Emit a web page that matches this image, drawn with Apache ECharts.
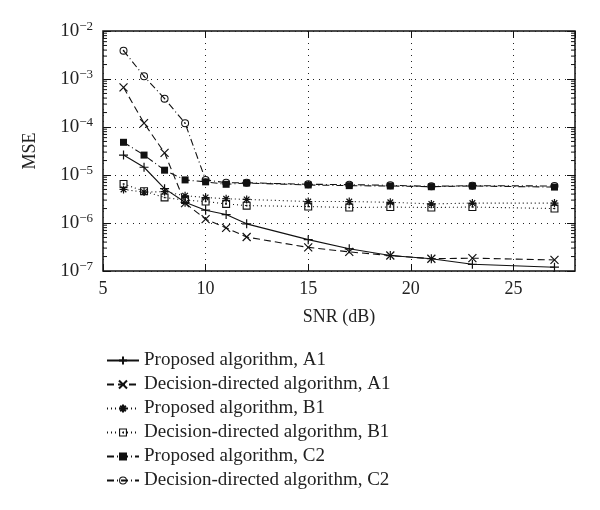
<!DOCTYPE html>
<html><head><meta charset="utf-8">
<script src="https://cdn.jsdelivr.net/npm/echarts@6/dist/echarts.min.js"></script>
<style>html,body{margin:0;padding:0;background:#fff}#c{width:600px;height:510px}</style>
</head><body><div id="c"></div>
<script>
const snr = [6, 7, 8, 9, 10, 11, 12, 15, 17, 19, 21, 23, 27];
const propA1 = [2.6e-5, 1.45e-5, 5.2e-6, 2.7e-6, 1.85e-6, 1.5e-6, 9.6e-7, 4.5e-7, 2.9e-7, 2.1e-7, 1.8e-7, 1.38e-7, 1.2e-7];
const ddA1   = [6.7e-4, 1.2e-4, 2.9e-5, 2.6e-6, 1.2e-6, 7.9e-7, 5.1e-7, 3.1e-7, 2.5e-7, 2.1e-7, 1.8e-7, 1.85e-7, 1.7e-7];
const propB1 = [5.0e-6, 4.4e-6, 4.5e-6, 3.7e-6, 3.4e-6, 3.2e-6, 3.1e-6, 2.8e-6, 2.8e-6, 2.7e-6, 2.5e-6, 2.6e-6, 2.6e-6];
const ddB1   = [6.5e-6, 4.6e-6, 3.4e-6, 3.0e-6, 2.8e-6, 2.5e-6, 2.3e-6, 2.2e-6, 2.1e-6, 2.15e-6, 2.1e-6, 2.15e-6, 2.0e-6];
const propC2 = [4.8e-5, 2.6e-5, 1.26e-5, 7.9e-6, 7.2e-6, 6.4e-6, 6.8e-6, 6.2e-6, 6.0e-6, 5.9e-6, 5.7e-6, 5.9e-6, 5.6e-6];
const ddC2   = [3.9e-3, 1.14e-3, 3.9e-4, 1.2e-4, 7.9e-6, 6.9e-6, 6.9e-6, 6.4e-6, 6.3e-6, 6.1e-6, 5.8e-6, 6.0e-6, 5.9e-6];
const names = ['Proposed algorithm, A1', 'Decision-directed algorithm, A1', 'Proposed algorithm, B1',
  'Decision-directed algorithm, B1', 'Proposed algorithm, C2', 'Decision-directed algorithm, C2'];
const xTicks = [5, 10, 15, 20, 25];
const yDecades = [-7, -6, -5, -4, -3, -2];

const FONT = 'Liberation Serif';
const minorVals = [];
for (let k = -7; k < -2; k++) for (let m = 2; m <= 9; m++) minorVals.push(m * Math.pow(10, k));

const SYM = {
  plus: 'path://M0,5L10,5M5,0L5,10',
  cross: 'path://M0,0L10,10M10,0L0,10',
  star: 'path://M0,5L10,5M5,0L5,10M1.5,1.5L8.5,8.5M8.5,1.5L1.5,8.5',
  sqdot: 'path://M0,0L10,0L10,10L0,10ZM1.4,1.4L1.4,8.6L8.6,8.6L8.6,1.4ZM4,4L6,4L6,6L4,6Z',
  fsq: 'path://M0,0L10,0L10,10L0,10Z',
  cdot: 'path://M0,5A5,5 0 1,1 10,5A5,5 0 1,1 0,5ZM1.3,5A3.7,3.7 0 1,0 8.7,5A3.7,3.7 0 1,0 1.3,5ZM4,5A1,1 0 1,1 6,5A1,1 0 1,1 4,5Z'
};
function mk(name, vals, sym, size, stroke, ltype) {
  return {
    name, type: 'line', data: snr.map((x, i) => [x, vals[i]]),
    symbol: sym, symbolSize: size, showSymbol: true,
    lineStyle: { color: '#111', width: 1.1, type: ltype },
    itemStyle: stroke ? { color: 'none', borderColor: '#111', borderWidth: 1.2 } : { color: '#111', borderWidth: 0 },
    emphasis: { disabled: true }, animation: false, z: 3
  };
}
const series = [
  mk(names[0], propA1, SYM.plus, 9, true, 'solid'),
  mk(names[1], ddA1, SYM.cross, 8, true, [7, 4]),
  mk(names[2], propB1, SYM.star, 8, true, [1, 3]),
  mk(names[3], ddB1, SYM.sqdot, 8, false, [1, 3]),
  mk(names[4], propC2, SYM.fsq, 7, false, [7, 3, 1, 3]),
  mk(names[5], ddC2, SYM.cdot, 8, false, [7, 3, 1, 3]),
  {
    type: 'custom', silent: true, animation: false, z: 2,
    data: minorVals.map(v => [xTicks[0], v]),
    renderItem: function (params, api) {
      const y = api.coord([api.value(0), api.value(1)])[1];
      const cs = params.coordSys;
      return { type: 'group', children: [
        { type: 'line', shape: { x1: cs.x, y1: y, x2: cs.x + 4, y2: y }, style: { stroke: '#111', lineWidth: 1 } },
        { type: 'line', shape: { x1: cs.x + cs.width, y1: y, x2: cs.x + cs.width - 4, y2: y }, style: { stroke: '#111', lineWidth: 1 } }
      ] };
    }
  }
];

const chart = echarts.init(document.getElementById('c'), null, { renderer: 'canvas' });
const xBase = {
  type: 'value', min: xTicks[0], max: 28, interval: 5,
  axisLine: { show: false }, axisTick: { inside: true, length: 7, lineStyle: { color: '#111' } }
};
const yBase = {
  type: 'log', logBase: 10, min: Math.pow(10, yDecades[0]), max: Math.pow(10, yDecades[yDecades.length - 1]),
  axisLine: { show: false }, axisTick: { inside: true, length: 8, lineStyle: { color: '#111' } }
};
chart.setOption({
  animation: false,
  backgroundColor: '#fff',
  grid: { left: 103, right: 25, top: 31, bottom: 239, show: true, borderColor: '#111', borderWidth: 1.5, backgroundColor: 'transparent' },
  xAxis: [
    Object.assign({}, xBase, {
      position: 'bottom',
      name: 'SNR (dB)', nameLocation: 'middle', nameGap: 37,
      nameTextStyle: { fontFamily: FONT, fontSize: 18, color: '#222' },
      axisLabel: { showMaxLabel: false, fontFamily: FONT, fontSize: 18, color: '#222', margin: 9 },
      splitLine: { show: true, lineStyle: { color: '#222', type: [1, 5], width: 1 } }
    }),
    Object.assign({}, xBase, { position: 'top', axisLabel: { show: false }, splitLine: { show: false } })
  ],
  yAxis: [
    Object.assign({}, yBase, {
      position: 'left',
      name: 'MSE', nameLocation: 'middle', nameGap: 64,
      nameTextStyle: { fontFamily: FONT, fontSize: 18, color: '#222' },
      axisLabel: {
        margin: 10,
        formatter: v => '{b|10}{s|−' + Math.abs(Math.round(Math.log10(v))) + '}',
        rich: { b: { fontFamily: FONT, fontSize: 19, color: '#222' }, s: { fontFamily: FONT, fontSize: 13, color: '#222', verticalAlign: 'top', padding: [0, 0, 8, 0] } }
      },
      splitLine: { show: true, lineStyle: { color: '#222', type: [1, 5], width: 1 } }
    }),
    Object.assign({}, yBase, { position: 'right', axisLabel: { show: false }, splitLine: { show: false } })
  ],
  legend: {
    data: names, orient: 'vertical', left: 101, top: 346,
    itemWidth: 32, itemHeight: 10, itemGap: 5,
    textStyle: { fontFamily: FONT, fontSize: 19, color: '#222' },
    inactiveColor: '#111'
  },
  series
});
</script></body></html>
